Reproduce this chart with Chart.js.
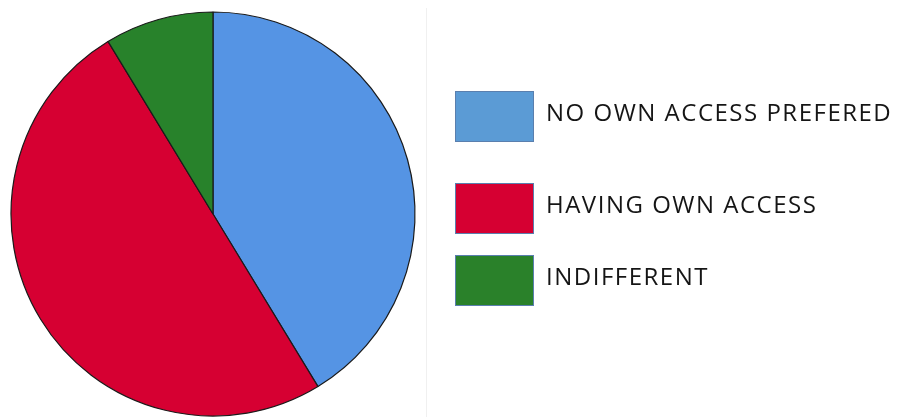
<!DOCTYPE html>
<html>
<head>
<meta charset="utf-8">
<script src="https://cdn.jsdelivr.net/npm/chart.js@4/dist/chart.umd.min.js"></script>
<style>
  html, body { margin: 0; padding: 0; background: #fff; }
  #wrap { width: 899px; height: 417px; position: relative; }
</style>
</head>
<body>
<div id="wrap"><canvas id="graphAcesso"></canvas></div>
<script>
// respostas (percentual)
var categorias = ['NO OWN ACCESS PREFERED', 'HAVING OWN ACCESS', 'INDIFFERENT'];
var percentuais = [41.3, 50.0, 8.7];

var coresFatia = ['#5594e4', '#d60032', '#28822b'];
var coresLegenda = ['#5b9bd5', '#d60032', '#2a812a'];

// legenda desenhada à direita, caixas grandes como no relatório
var legendaLateral = {
    id: 'legendaLateral',
    afterDraw: function (chart) {
        var ctx = chart.ctx;
        var topos = [91, 183, 255];
        ctx.save();

        // linha divisória clarinha
        ctx.strokeStyle = '#f0f0f0';
        ctx.lineWidth = 1;
        ctx.beginPath();
        ctx.moveTo(426.5, 8);
        ctx.lineTo(426.5, 417);
        ctx.stroke();

        ctx.font = '24px "Open Sans"';
        ctx.letterSpacing = '1.5px';
        ctx.textBaseline = 'middle';
        chart.data.labels.forEach(function (rotulo, i) {
            ctx.fillStyle = coresLegenda[i];
            ctx.fillRect(455, topos[i], 79, 51);
            ctx.strokeStyle = '#5a7fae';
            ctx.lineWidth = 1;
            ctx.strokeRect(455.5, topos[i] + 0.5, 78, 50);

            ctx.fillStyle = '#151515';
            ctx.fillText(rotulo, 546, topos[i] + 23);
        });
        ctx.restore();
    }
};

var config = {
    type: 'pie',
    data: {
        labels: categorias,
        datasets: [{
            data: percentuais,
            backgroundColor: coresFatia,
            borderColor: '#1a1a1a',
            borderWidth: 1.2
        }]
    },
    options: {
        responsive: true,
        maintainAspectRatio: false,
        animation: false,
        radius: 202,
        layout: {
            padding: { left: 0, right: 473, top: 12, bottom: 1 }
        },
        plugins: {
            legend: { display: false },
            tooltip: { enabled: false }
        }
    },
    plugins: [legendaLateral]
};

var ctx = document.getElementById('graphAcesso').getContext('2d');
window.graficoPizza = new Chart(ctx, config);
</script>
</body>
</html>
